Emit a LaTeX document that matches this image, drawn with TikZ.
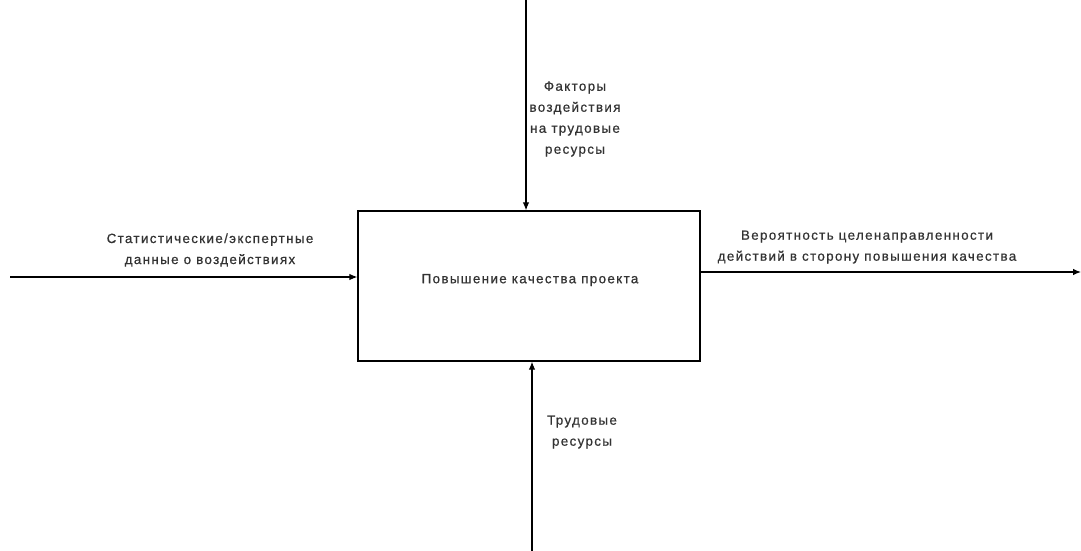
\documentclass[tikz,border=0pt]{standalone}
\usepackage{fontspec}
\setmainfont{Liberation Sans}
\newfontfamily\lblfont[LetterSpace=10,FakeBold=0.6]{Liberation Sans}
\usetikzlibrary{arrows.meta,positioning}
\tikzset{
  func/.style={draw,line width=1.3pt,minimum width=342pt,minimum height=150pt,inner sep=0pt},
  lbl/.style={font=\lblfont\fontsize{13.4}{21}\selectfont,align=center,text=black!80,inner sep=0pt},
  ar/.style={-{Latex[length=8pt,width=6.5pt]},line width=1.1pt}
}

\begin{document}
\begin{tikzpicture}[x=1pt,y=-1pt]
  \useasboundingbox (0,0) rectangle (1081,551);
  \node[func] (fn) at (529,286) {};
  \node[lbl] (fntxt) at (530,280) {Повышение качества проекта};
  % входы и выходы
  \coordinate (ctl) at (526,0);
  \coordinate (mech) at (532,551);
  \coordinate (inp) at (10,277);
  \coordinate (outp) at (1081,272);
  \draw[ar] (ctl) -- (ctl |- fn.north);
  \draw[ar] (mech) -- (mech |- fn.south);
  \draw[ar] (inp) -- (inp -| fn.west);
  \draw[ar] (outp -| fn.east) -- (outp);
  \node[lbl] (ctltxt) at (575,119) {Факторы\\воздействия\\на трудовые\\ресурсы};
  \node[lbl] (mechtxt) at (582,432) {Трудовые\\ресурсы};
  \node[lbl] (inptxt) at (210,250) {Статистические/экспертные\\данные о воздействиях};
  \node[lbl] (outtxt) at (867,247) {Вероятность целенаправленности\\действий в сторону повышения качества};
\end{tikzpicture}
\end{document}
